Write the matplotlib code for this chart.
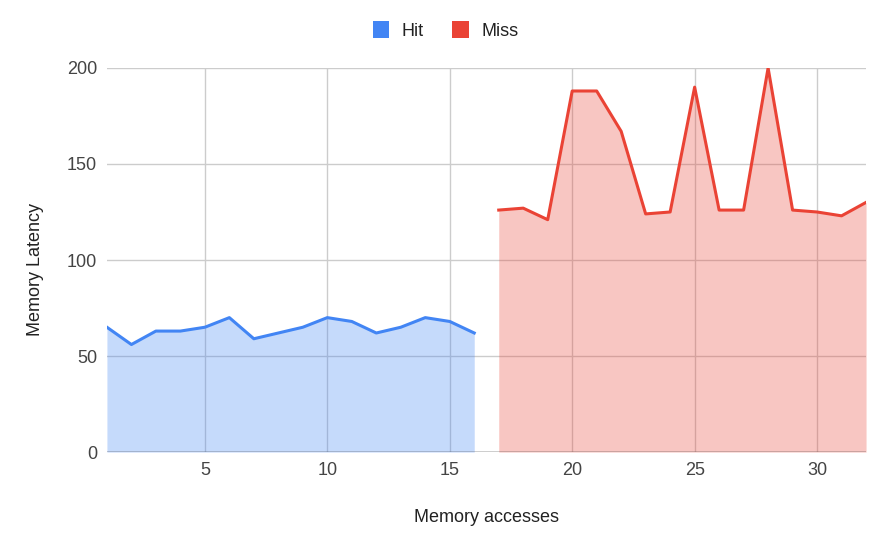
import matplotlib
matplotlib.use("Agg")
import matplotlib.pyplot as plt
from matplotlib.patches import Patch

# Data
hit_x = list(range(1, 17))
hit_y = [65, 56, 63, 63, 65, 70, 59, 62, 65, 70, 68, 62, 65, 70, 68, 62]
miss_x = list(range(17, 33))
miss_y = [126, 127, 121, 188, 188, 167, 124, 125, 190, 126, 126, 200, 126, 125, 123, 130]

BLUE = "#4285F4"
RED = "#EA4335"
FONT = "Liberation Sans"

plt.rcParams["font.family"] = [FONT, "DejaVu Sans"]

fig = plt.figure(figsize=(8.91, 5.35), dpi=100, facecolor="white")
ax = fig.add_axes([0.120, 0.155, 0.852, 0.718])

ax.fill_between(hit_x, hit_y, 0, color=BLUE, alpha=0.3, linewidth=0, zorder=2)
ax.plot(hit_x, hit_y, color=BLUE, linewidth=2.2, zorder=3)
ax.fill_between(miss_x, miss_y, 0, color=RED, alpha=0.3, linewidth=0, zorder=2)
ax.plot(miss_x, miss_y, color=RED, linewidth=2.2, zorder=3)

ax.set_xlim(1, 32)
ax.set_ylim(0, 200)
ax.set_xticks([5, 10, 15, 20, 25, 30])
ax.set_yticks([0, 50, 100, 150, 200])
ax.grid(True, color="#cccccc", linewidth=1, zorder=1)
ax.set_axisbelow(True)
ax.axhline(0, color="#333333", linewidth=1, zorder=4)
for s in ax.spines.values():
    s.set_visible(False)
ax.tick_params(length=0, labelsize=13, colors="#444444", pad=7)

ax.set_xlabel("Memory accesses", fontsize=13, color="#222222", labelpad=22)
ax.set_ylabel("Memory Latency", fontsize=13, color="#222222")
ax.yaxis.set_label_coords(-0.083, 0.474)

handles = [Patch(facecolor=BLUE, label="Hit"), Patch(facecolor=RED, label="Miss")]
fig.legend(handles=handles, loc="center", bbox_to_anchor=(0.5, 0.943), ncol=2,
           frameon=False, fontsize=13, handlelength=0.9, handleheight=1.1,
           handletextpad=0.7, columnspacing=1.6, labelcolor="#222222")

fig.savefig("out.png", dpi=100, facecolor="white")
